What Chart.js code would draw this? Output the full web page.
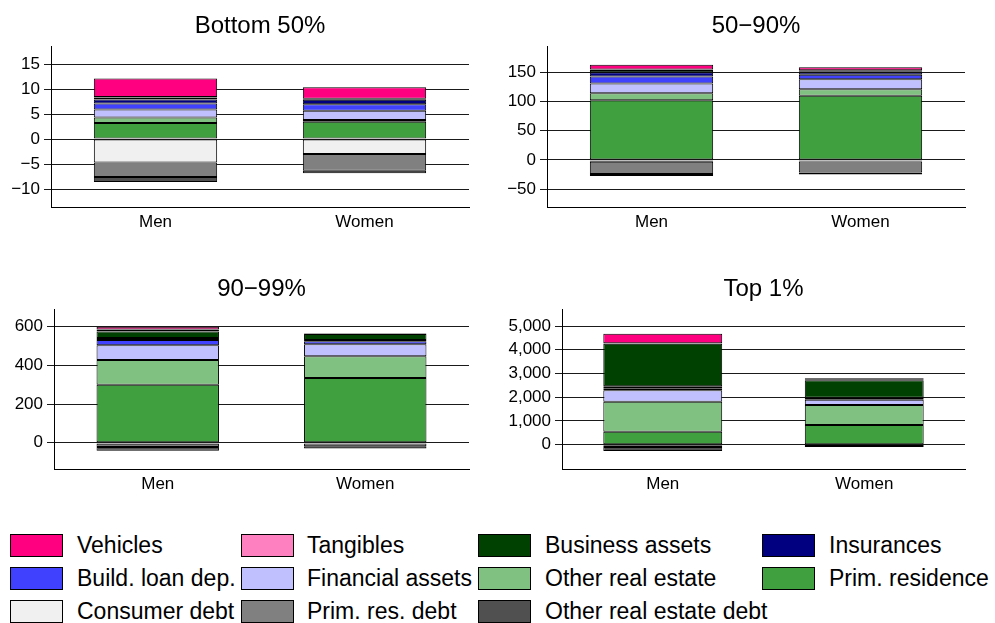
<!DOCTYPE html>
<html>
<head>
<meta charset="utf-8">
<script src="https://cdn.jsdelivr.net/npm/chart.js@4"></script>
<style>
  body { margin: 0; background: #fff; overflow: hidden; font-family: "Liberation Sans", Arial, sans-serif; }
  canvas { position: absolute; }
  .key { position: absolute; height: 23px; display: flex; align-items: center; font-size: 23px; color: #000; white-space: nowrap; }
  .sw { position: absolute; width: 51px; height: 21px; border: 1px solid #000; }
</style>
</head>
<body>
<canvas id="p1" width="490" height="237" style="left:0;top:0"></canvas>
<canvas id="p2" width="505" height="237" style="left:490px;top:0"></canvas>
<canvas id="p3" width="490" height="236" style="left:0;top:263px"></canvas>
<canvas id="p4" width="505" height="236" style="left:490px;top:263px"></canvas>
<div id="legend"></div>

<script>
const categories = ["Men", "Women"];

// stacking order, bottom up (assets), then debts going down from zero
const series = [
  "Prim. residence", "Other real estate", "Financial assets", "Build. loan dep.",
  "Insurances", "Business assets", "Tangibles", "Vehicles",
  "Consumer debt", "Prim. res. debt", "Other real estate debt"
];
const colors = [
  "#40a040", "#80c080", "#c0c0ff", "#4040ff",
  "#000080", "#004000", "#ff80c0", "#ff0080",
  "#f0f0f0", "#808080", "#505050"
];

// wealth components, thousand euros
const bottom50Men   = [3.2, 1.1, 1.6, 1.2, 0.8, 0.4, 0.1, 3.7, -4.7, -2.9, -1.0];
const bottom50Women = [3.45, 0.35, 1.85, 1.3, 0.9, 0.15, 0.05, 2.3, -3.0, -3.35, -0.5];
const mid40Men      = [102, 12, 17, 12, 7, 4, 1, 8, -3, -21, -3.5];
const mid40Women    = [110, 11, 17, 8, 4, 2, 1.5, 5, -2.5, -19, -3.5];
const next9Men      = [300, 128, 76, 28, 10, 33, 11, 14, -5, -17, -20];
const next9Women    = [335, 113, 62, 15, 7, 31, 1, 2, -4, -14, -12];
const top1Men       = [545, 1265, 480, 90, 80, 1790, 30, 400, -20, -80, -165];
const top1Women     = [830, 840, 225, 30, 50, 740, 20, 60, -15, -35, -45];

const bottom50Ticks = [-10, -5, 0, 5, 10, 15];
const mid40Ticks    = [-50, 0, 50, 100, 150];
const next9Ticks    = [0, 200, 400, 600];
const top1Ticks     = [0, 1000, 2000, 3000, 4000, 5000];

// legend layout: rows of four
const legendOrder = [
  "Vehicles", "Tangibles", "Business assets", "Insurances",
  "Build. loan dep.", "Financial assets", "Other real estate", "Prim. residence",
  "Consumer debt", "Prim. res. debt", "Other real estate debt"
];

Chart.defaults.font.family = '"Liberation Sans", Arial, sans-serif';
Chart.defaults.color = "#000";

function fmt(v) {
  const s = Math.abs(v).toLocaleString("en-US");
  return v < 0 ? "\u2212" + s : s;
}

function panel(id, title, men, women, ticks, yMin, yMax, axisW, padR) {
  const datasets = series.map((name, i) => ({
    label: name,
    data: [men[i], women[i]],
    backgroundColor: colors[i],
    borderColor: "#000",
    borderWidth: 1,
    borderSkipped: false,
    stack: "w",
    barPercentage: 0.59,
    categoryPercentage: 1
  }));

  new Chart(document.getElementById(id), {
    type: "bar",
    data: { labels: categories, datasets },
    options: {
      responsive: false,
      animation: false,
      devicePixelRatio: 1,
      layout: { padding: { left: 0, right: padR, top: 0, bottom: 0 } },
      plugins: {
        legend: { display: false },
        tooltip: { enabled: false },
        title: {
          display: true,
          fullSize: false,
          text: title,
          font: { size: 24, weight: "normal" },
          color: "#000",
          padding: { top: 11.6, bottom: 5.6 }
        }
      },
      scales: {
        x: {
          stacked: true,
          offset: true,
          grid: { display: false, drawTicks: false },
          border: { display: true, color: "#000", width: 1 },
          ticks: { font: { size: 17 }, padding: 5, color: "#000" },
          afterFit: (s) => { s.height = 30; }
        },
        y: {
          stacked: true,
          min: yMin,
          max: yMax,
          afterBuildTicks: (s) => { s.ticks = ticks.map(v => ({ value: v })); },
          grid: { color: "#1a1a1a", lineWidth: 1, drawTicks: true, tickLength: 7 },
          border: { display: true, color: "#000", width: 1 },
          ticks: { font: { size: 17 }, padding: 4, color: "#000", callback: (v) => fmt(v) },
          afterFit: (s) => { s.width = axisW; }
        }
      }
    }
  });
}

panel("p1", "Bottom 50%", bottom50Men, bottom50Women, bottom50Ticks, -13.6, 18.6, 51, 21);
panel("p2", "50\u221290%", mid40Men, mid40Women, mid40Ticks, -80.4, 195, 57, 30);
panel("p3", "90\u221299%", next9Men, next9Women, next9Ticks, -136, 692, 54, 21);
panel("p4", "Top 1%", top1Men, top1Women, top1Ticks, -1024, 5718, 72, 30);

// legend, drawn as plain boxes with text
const swatchX = [10, 241, 478, 762];
const textX = [77, 307, 545, 829];
const rowY = [534, 567, 600];
const legend = document.getElementById("legend");
legendOrder.forEach((name, k) => {
  const col = k % 4, row = Math.floor(k / 4);
  const sw = document.createElement("div");
  sw.className = "sw";
  sw.style.left = swatchX[col] + "px";
  sw.style.top = rowY[row] + "px";
  sw.style.background = colors[series.indexOf(name)];
  legend.appendChild(sw);
  const t = document.createElement("div");
  t.className = "key";
  t.style.left = textX[col] + "px";
  t.style.top = rowY[row] + "px";
  t.textContent = name;
  legend.appendChild(t);
});
</script>
</body>
</html>
